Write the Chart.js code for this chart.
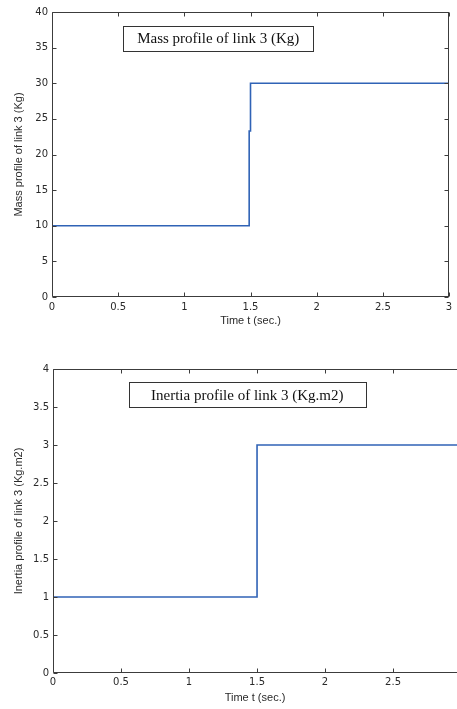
<!DOCTYPE html>
<html lang="en">
<head>
<meta charset="UTF-8">
<title>Mass and inertia profile of link 3</title>
<script src="https://cdn.jsdelivr.net/npm/chart.js"></script>
<style>
  html,body{margin:0;padding:0;background:#fff}
  .wrap{position:relative;width:457px}
  #topWrap{height:340px}
  #botWrap{height:369px}
</style>
</head>
<body>
<div class="wrap" id="topWrap"><canvas id="massChart"></canvas></div>
<div class="wrap" id="botWrap"><canvas id="inertiaChart"></canvas></div>
<script>
// mass profile of link 3 (Kg)
const massTime  = [0, 1.49, 1.49, 1.5, 1.5, 3];
const massValue = [10, 10, 23.3, 23.3, 30, 30];
// inertia profile of link 3 (Kg.m2)
const inertiaTime  = [0, 1.5, 1.5, 3];
const inertiaValue = [1, 1, 3, 3];

const LINE = '#3063b6', AXIS = '#3c3c3c', TXT = '#2a2a2a';
const SANS = "'Liberation Sans', Arial, sans-serif";
const TICKF = "'DejaVu Sans', sans-serif";

/* matlab-ish box with inward ticks + framed note */
const matlabAxes = {
  id: 'matlabAxes',
  afterDatasetsDraw(chart, args, opts) {
    const {ctx, chartArea: a, scales: {x, y}} = chart;
    ctx.save();
    ctx.strokeStyle = AXIS;
    ctx.lineWidth = 1;
    ctx.beginPath();
    const L = Math.round(a.left) + .5, R = Math.round(a.right) - .5;
    const T = Math.round(a.top) + .5, B = Math.round(a.bottom) - .5;
    ctx.moveTo(L, T); ctx.lineTo(L, B); ctx.lineTo(a.right, B);
    ctx.moveTo(L, T); ctx.lineTo(a.right, T);
    if (opts.right) { ctx.moveTo(R, T); ctx.lineTo(R, B); }
    x.ticks.forEach(t => {
      const p = Math.round(x.getPixelForValue(t.value)) + .5;
      ctx.moveTo(p, B); ctx.lineTo(p, B - 4);
      ctx.moveTo(p, T); ctx.lineTo(p, T + 4);
    });
    y.ticks.forEach(t => {
      const p = Math.round(y.getPixelForValue(t.value)) + .5;
      ctx.moveTo(L, p); ctx.lineTo(L + 4, p);
      if (opts.right) { ctx.moveTo(R, p); ctx.lineTo(R - 4, p); }
    });
    ctx.stroke();

    // note box, placed in data coords
    const n = opts.note;
    ctx.font = "15px 'Liberation Serif', 'Times New Roman', serif";
    const w = n.w, h = 25;
    const cx = x.getPixelForValue(n.x), cy = y.getPixelForValue(n.y);
    ctx.fillStyle = '#fff';
    ctx.fillRect(cx - w / 2, cy - h / 2, w, h);
    ctx.strokeStyle = '#333';
    ctx.strokeRect(Math.round(cx - w / 2) + .5, Math.round(cy - h / 2) + .5, w, h);
    ctx.fillStyle = '#111';
    ctx.textAlign = 'center';
    ctx.textBaseline = 'middle';
    ctx.fillText(n.text, cx, cy + 1);
    ctx.restore();
  }
};

const fmt = v => String(+(+v).toFixed(2));

function makeChart(id, t, v, cfg) {
  return new Chart(document.getElementById(id), {
    type: 'line',
    data: {
      datasets: [{
        data: t.map((tt, i) => ({x: tt, y: v[i]})),
        borderColor: LINE,
        borderWidth: 1.6,
        pointRadius: 0,
        tension: 0,
        fill: false
      }]
    },
    options: {
      responsive: true,
      maintainAspectRatio: false,
      animation: false,
      layout: {padding: cfg.padding},
      plugins: {
        legend: {display: false},
        tooltip: {enabled: false},
        matlabAxes: {note: cfg.note, right: cfg.right}
      },
      scales: {
        x: {
          type: 'linear',
          min: 0, max: cfg.xMax,
          grid: {display: false, drawTicks: false, tickLength: 0},
          border: {display: false},
          ticks: {stepSize: 0.5, includeBounds: false, padding: cfg.xTickPad, color: TXT, maxRotation: 0,
                  callback: fmt, font: {family: TICKF, size: 10}},
          title: {display: true, text: 'Time t (sec.)', color: TXT, padding: {top: 0, bottom: cfg.xTitlePad},
                  font: {family: SANS, size: 11}},
          afterFit: s => { s.height = cfg.xHeight; }
        },
        y: {
          min: 0, max: cfg.yMax,
          grid: {display: false, drawTicks: false, tickLength: 0},
          border: {display: false},
          ticks: {stepSize: cfg.yStep, padding: 4, color: TXT, callback: fmt, font: {family: TICKF, size: 10}},
          title: {display: true, text: cfg.yTitle, color: TXT, padding: {top: 12, bottom: 0},
                  font: {family: SANS, size: 11}},
          afterFit: s => { s.width = cfg.yWidth; }
        }
      }
    },
    plugins: [matlabAxes]
  });
}

makeChart('massChart', massTime, massValue, {
  padding: {left: 0, top: 12, right: 8, bottom: 0},
  xMax: 3, yMax: 40, yStep: 5, yWidth: 52, xHeight: 43, xTickPad: 4, xTitlePad: 12,
  yTitle: 'Mass profile of link 3 (Kg)', right: true,
  note: {text: 'Mass profile of link 3 (Kg)', x: 1.256, y: 36.3, w: 190}
});

makeChart('inertiaChart', inertiaTime, inertiaValue, {
  padding: {left: 0, top: 29, right: 0, bottom: 0},
  xMax: 2.97, yMax: 4, yStep: 0.5, yWidth: 53, xHeight: 36, xTickPad: 3, xTitlePad: 4,
  yTitle: 'Inertia profile of link 3 (Kg.m2)', right: false,
  note: {text: 'Inertia profile of link 3 (Kg.m2)', x: 1.428, y: 3.66, w: 237}
});
</script>
</body>
</html>
